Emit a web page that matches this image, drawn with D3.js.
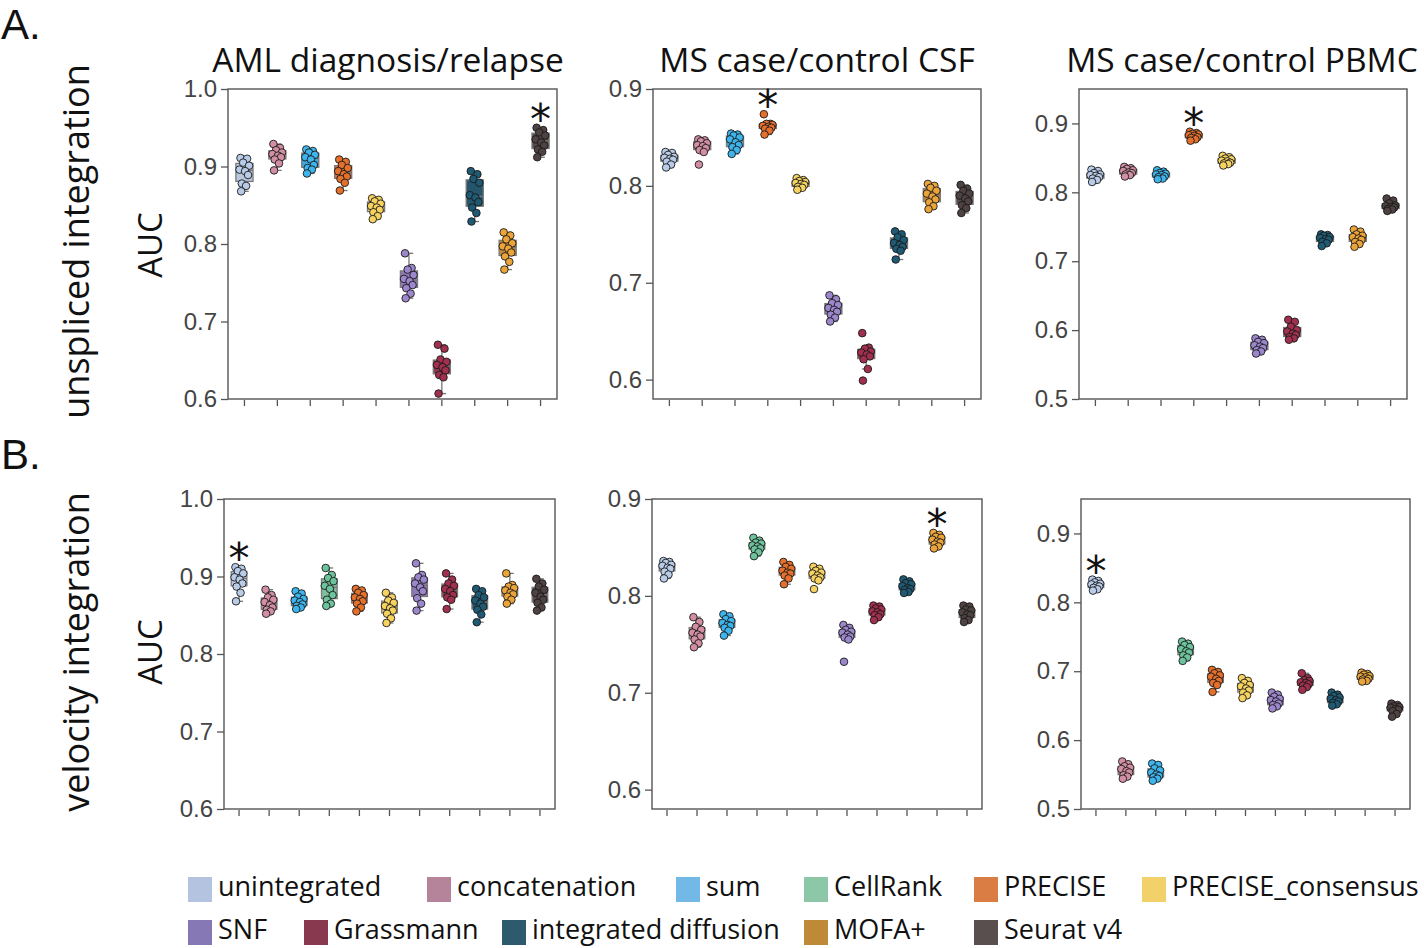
<!DOCTYPE html>
<html><head><meta charset="utf-8">
<script src="https://cdn.jsdelivr.net/npm/d3@7"></script>
<style>body{margin:0;background:#fff} svg{display:block}</style>
</head><body>
<svg id="chart" width="1424" height="948"></svg>
<script>
// ---------------- data ----------------
const methodsTop = ["unintegrated","concatenation","sum","PRECISE","PRECISE_consensus","SNF","Grassmann","integrated diffusion","MOFA+","Seurat v4"];
const methodsBottom = ["unintegrated","concatenation","sum","CellRank","PRECISE","PRECISE_consensus","SNF","Grassmann","integrated diffusion","MOFA+","Seurat v4"];
const datasetTitles = ["AML diagnosis/relapse","MS case/control CSF","MS case/control PBMC"];
const rowLabels = ["unspliced integration","velocity integration"];
const panelLetters = ["A.","B."];
const yLabel = "AUC";
const yDomainAML = [0.6, 1.0];
const yDomainCSF = [0.58, 0.9];
const yDomainPBMC = [0.5, 0.95];
const yTicksAML = [0.6, 0.7, 0.8, 0.9, 1.0];
const yTicksCSF = [0.6, 0.7, 0.8, 0.9];
const yTicksPBMC = [0.5, 0.6, 0.7, 0.8, 0.9];
const legendRow1 = ["unintegrated","concatenation","sum","CellRank","PRECISE","PRECISE_consensus"];
const legendRow2 = ["SNF","Grassmann","integrated diffusion","MOFA+","Seurat v4"];
const bestTop = ["Seurat v4","PRECISE","PRECISE"];
const bestBottom = ["unintegrated","MOFA+","unintegrated"];

const unsplicedAML = [
 [0.911,0.910,0.905,0.901,0.896,0.894,0.889,0.878,0.875,0.868],
 [0.929,0.924,0.921,0.918,0.916,0.914,0.912,0.909,0.904,0.895],
 [0.922,0.920,0.918,0.915,0.912,0.909,0.902,0.898,0.896,0.891],
 [0.909,0.906,0.902,0.898,0.894,0.890,0.887,0.884,0.879,0.869],
 [0.859,0.857,0.855,0.852,0.849,0.847,0.844,0.841,0.836,0.832],
 [0.788,0.769,0.767,0.760,0.755,0.752,0.747,0.743,0.736,0.730],
 [0.670,0.665,0.651,0.648,0.644,0.641,0.637,0.631,0.628,0.607],
 [0.894,0.890,0.884,0.879,0.863,0.860,0.854,0.847,0.840,0.829],
 [0.815,0.811,0.806,0.801,0.797,0.794,0.789,0.784,0.777,0.767],
 [0.950,0.947,0.944,0.940,0.935,0.931,0.927,0.922,0.919,0.912]
];
const unsplicedCSF = [
 [0.835,0.834,0.832,0.830,0.829,0.828,0.827,0.825,0.822,0.819],
 [0.848,0.847,0.846,0.844,0.842,0.841,0.839,0.837,0.835,0.822],
 [0.854,0.853,0.852,0.850,0.848,0.845,0.842,0.840,0.837,0.833],
 [0.874,0.864,0.864,0.863,0.862,0.861,0.860,0.859,0.857,0.853],
 [0.808,0.806,0.805,0.804,0.803,0.802,0.801,0.799,0.798,0.796],
 [0.687,0.683,0.679,0.677,0.674,0.672,0.670,0.667,0.664,0.660],
 [0.648,0.633,0.632,0.629,0.628,0.626,0.624,0.621,0.611,0.599],
 [0.753,0.750,0.747,0.744,0.741,0.739,0.737,0.735,0.733,0.724],
 [0.802,0.800,0.798,0.795,0.792,0.789,0.786,0.783,0.779,0.776],
 [0.801,0.797,0.795,0.792,0.790,0.787,0.784,0.780,0.777,0.772]
];
const unsplicedPBMC = [
 [0.833,0.831,0.828,0.826,0.825,0.824,0.822,0.820,0.818,0.815],
 [0.837,0.835,0.834,0.832,0.831,0.829,0.828,0.826,0.825,0.823],
 [0.832,0.830,0.828,0.827,0.826,0.825,0.823,0.822,0.820,0.819],
 [0.888,0.886,0.885,0.884,0.883,0.882,0.880,0.879,0.877,0.875],
 [0.853,0.851,0.849,0.848,0.846,0.845,0.843,0.842,0.841,0.839],
 [0.588,0.586,0.583,0.581,0.578,0.576,0.574,0.571,0.569,0.566],
 [0.615,0.612,0.605,0.600,0.598,0.595,0.593,0.590,0.588,0.586],
 [0.739,0.738,0.737,0.735,0.734,0.732,0.731,0.728,0.726,0.722],
 [0.746,0.743,0.739,0.737,0.735,0.733,0.731,0.728,0.725,0.721],
 [0.791,0.788,0.784,0.781,0.780,0.779,0.778,0.776,0.775,0.773]
];
const velocityAML = [
 [0.912,0.910,0.907,0.904,0.899,0.896,0.891,0.887,0.879,0.868],
 [0.883,0.876,0.873,0.870,0.867,0.863,0.860,0.857,0.855,0.852],
 [0.881,0.878,0.874,0.871,0.869,0.867,0.864,0.862,0.860,0.858],
 [0.911,0.902,0.898,0.894,0.888,0.884,0.876,0.870,0.865,0.862],
 [0.884,0.882,0.879,0.876,0.873,0.871,0.868,0.865,0.860,0.855],
 [0.879,0.873,0.869,0.866,0.862,0.859,0.856,0.852,0.846,0.840],
 [0.917,0.902,0.899,0.896,0.891,0.886,0.881,0.872,0.865,0.856],
 [0.904,0.896,0.891,0.888,0.884,0.881,0.876,0.873,0.870,0.858],
 [0.884,0.881,0.876,0.873,0.869,0.865,0.861,0.857,0.851,0.841],
 [0.904,0.889,0.887,0.885,0.882,0.879,0.877,0.874,0.870,0.865],
 [0.897,0.891,0.887,0.883,0.879,0.874,0.870,0.866,0.860,0.856]
];
const velocityCSF = [
 [0.836,0.835,0.834,0.832,0.831,0.829,0.828,0.825,0.822,0.818],
 [0.778,0.773,0.768,0.765,0.762,0.760,0.758,0.755,0.751,0.747],
 [0.781,0.779,0.776,0.774,0.772,0.770,0.769,0.767,0.764,0.759],
 [0.860,0.857,0.855,0.854,0.852,0.851,0.849,0.848,0.845,0.841],
 [0.835,0.832,0.830,0.828,0.826,0.824,0.823,0.821,0.818,0.812],
 [0.830,0.828,0.826,0.824,0.823,0.821,0.819,0.818,0.816,0.807],
 [0.770,0.767,0.765,0.763,0.762,0.760,0.758,0.757,0.755,0.732],
 [0.790,0.789,0.787,0.786,0.784,0.783,0.781,0.780,0.778,0.775],
 [0.817,0.815,0.813,0.812,0.810,0.808,0.807,0.806,0.804,0.803],
 [0.865,0.863,0.861,0.860,0.858,0.856,0.855,0.853,0.851,0.849],
 [0.790,0.789,0.786,0.785,0.783,0.781,0.780,0.777,0.775,0.773]
];
const velocityPBMC = [
 [0.833,0.831,0.829,0.827,0.826,0.824,0.823,0.821,0.819,0.817],
 [0.569,0.565,0.562,0.560,0.558,0.555,0.553,0.549,0.547,0.544],
 [0.566,0.564,0.559,0.556,0.553,0.550,0.548,0.546,0.544,0.541],
 [0.743,0.740,0.738,0.735,0.732,0.729,0.727,0.723,0.720,0.715],
 [0.702,0.699,0.697,0.694,0.692,0.689,0.686,0.683,0.680,0.670],
 [0.690,0.686,0.683,0.680,0.678,0.675,0.672,0.669,0.665,0.661],
 [0.669,0.666,0.663,0.660,0.658,0.656,0.653,0.651,0.649,0.646],
 [0.697,0.690,0.687,0.686,0.684,0.683,0.681,0.679,0.677,0.673],
 [0.669,0.666,0.664,0.662,0.660,0.658,0.656,0.654,0.652,0.650],
 [0.698,0.696,0.695,0.693,0.692,0.691,0.689,0.688,0.686,0.685],
 [0.653,0.651,0.649,0.648,0.647,0.645,0.644,0.642,0.638,0.634]
];

// ---------------- styles ----------------
const legendColor = {
 "unintegrated":"#b4c4e0","concatenation":"#b5849a","sum":"#72b9e7","CellRank":"#8cc7a8",
 "PRECISE":"#d97d45","PRECISE_consensus":"#f2d06a","SNF":"#8677b5","Grassmann":"#88394f",
 "integrated diffusion":"#2e5a6e","MOFA+":"#bf8a38","Seurat v4":"#5a4f4f"};
const boxColor = {
 "unintegrated":"#b9c8de","concatenation":"#b98b9f","sum":"#3ca8dc","CellRank":"#7fbf9e",
 "PRECISE":"#d06d36","PRECISE_consensus":"#efcf76","SNF":"#8e79b8","Grassmann":"#8c3a52",
 "integrated diffusion":"#25566b","MOFA+":"#c28c3c","Seurat v4":"#564a4a"};
const pointColor = {
 "unintegrated":"#b8cce8","concatenation":"#d28fa3","sum":"#3db4ec","CellRank":"#6dc39b",
 "PRECISE":"#e4702c","PRECISE_consensus":"#f6d360","SNF":"#9c87cc","Grassmann":"#a1304e",
 "integrated diffusion":"#1f5a74","MOFA+":"#eba43a","Seurat v4":"#4f4242"};
const jitter = [-0.12,0.08,-0.04,0.14,-0.15,0.02,0.11,-0.08,0.05,-0.10];

const svg = d3.select("#chart");
const tickFont = "'Liberation Sans', Arial, sans-serif";
const textFont = "'Open Sans', 'Noto Sans', sans-serif";

const panels = [
 {cats:methodsTop, data:unsplicedAML, dom:yDomainAML, ticks:yTicksAML, x0:228, x1:557, y0:89, y1:399, best:bestTop[0]},
 {cats:methodsTop, data:unsplicedCSF, dom:yDomainCSF, ticks:yTicksCSF, x0:653, x1:981, y0:89, y1:399, best:bestTop[1]},
 {cats:methodsTop, data:unsplicedPBMC, dom:yDomainPBMC, ticks:yTicksPBMC, x0:1079, x1:1407, y0:89, y1:399, best:bestTop[2]},
 {cats:methodsBottom, data:velocityAML, dom:yDomainAML, ticks:yTicksAML, x0:224, x1:555, y0:499, y1:809, best:bestBottom[0]},
 {cats:methodsBottom, data:velocityCSF, dom:yDomainCSF, ticks:yTicksCSF, x0:652, x1:982, y0:499, y1:809, best:bestBottom[1]},
 {cats:methodsBottom, data:velocityPBMC, dom:yDomainPBMC, ticks:yTicksPBMC, x0:1081, x1:1410, y0:499, y1:809, best:bestBottom[2]}
];

panels.forEach(p => {
  const g = svg.append("g");
  const x = d3.scaleBand().domain(p.cats).range([p.x0, p.x1]);
  const y = d3.scaleLinear().domain(p.dom).range([p.y1, p.y0]);
  const bw = x.bandwidth();
  const boxW = bw * 0.52;

  // y axis
  const ya = g.append("g").attr("transform", `translate(${p.x0},0)`)
    .call(d3.axisLeft(y).tickValues(p.ticks).tickFormat(d3.format(".1f")).tickSize(7).tickPadding(4));
  ya.select(".domain").remove();
  ya.selectAll("line").attr("stroke", "#555").attr("stroke-width", 1.3);
  ya.selectAll("text").attr("font-family", tickFont).attr("font-size", 24).attr("fill", "#444");
  // x axis ticks
  const xa = g.append("g").attr("transform", `translate(0,${p.y1 + 1})`)
    .call(d3.axisBottom(x).tickSize(6).tickFormat(""));
  xa.select(".domain").remove();
  xa.selectAll("line").attr("stroke", "#555").attr("stroke-width", 1.3);

  // frame
  g.append("rect").attr("x", p.x0).attr("y", p.y0).attr("width", p.x1 - p.x0).attr("height", p.y1 - p.y0)
    .attr("fill", "none").attr("stroke", "#555").attr("stroke-width", 1.4);

  p.cats.forEach((c, i) => {
    const vals = p.data[i].slice().sort(d3.ascending);
    const q1 = d3.quantile(vals, 0.25), med = d3.quantile(vals, 0.5), q3 = d3.quantile(vals, 0.75);
    const iqr = q3 - q1;
    const lo = d3.min(vals.filter(v => v >= q1 - 1.5 * iqr));
    const hi = d3.max(vals.filter(v => v <= q3 + 1.5 * iqr));
    const cx = x(c) + bw / 2;
    const bg = g.append("g");
    bg.append("line").attr("x1", cx).attr("x2", cx).attr("y1", y(hi)).attr("y2", y(q3)).attr("stroke", "#777").attr("stroke-width", 1.3);
    bg.append("line").attr("x1", cx).attr("x2", cx).attr("y1", y(q1)).attr("y2", y(lo)).attr("stroke", "#777").attr("stroke-width", 1.3);
    [hi, lo].forEach(v => bg.append("line").attr("x1", cx - boxW * 0.25).attr("x2", cx + boxW * 0.25)
      .attr("y1", y(v)).attr("y2", y(v)).attr("stroke", "#777").attr("stroke-width", 1.3));
    bg.append("rect").attr("x", cx - boxW / 2).attr("width", boxW)
      .attr("y", y(q3)).attr("height", Math.max(1.5, y(q1) - y(q3)))
      .attr("fill", boxColor[c]).attr("stroke", "#7a7a7a").attr("stroke-width", 1.3);
    bg.append("line").attr("x1", cx - boxW / 2).attr("x2", cx + boxW / 2).attr("y1", y(med)).attr("y2", y(med))
      .attr("stroke", "#777").attr("stroke-width", 1.3);

    g.append("g").selectAll("circle").data(p.data[i]).join("circle")
      .attr("cx", (d, k) => cx + jitter[k % jitter.length] * bw)
      .attr("cy", d => y(d))
      .attr("r", 3.8)
      .attr("fill", pointColor[c]).attr("stroke", "#1a1a1a").attr("stroke-width", 0.9);

    if (c === p.best) {
      g.append("text").attr("x", cx).attr("y", y(d3.max(vals)) - 15 + 21)
        .attr("text-anchor", "middle").attr("font-family", "'DejaVu Sans', sans-serif")
        .attr("font-size", 42).attr("fill", "#111").text("*");
    }
  });
});

// titles
const titleCenters = [388, 817, 1242];
datasetTitles.forEach((t, i) => {
  svg.append("text").attr("x", titleCenters[i]).attr("y", 72).attr("text-anchor", "middle")
    .attr("font-family", textFont).attr("font-size", 33.5).attr("fill", "#111").text(t);
});

// panel letters
const letterFont = "'Liberation Sans', Arial, sans-serif";
svg.append("text").attr("x", 1).attr("y", 39).attr("font-family", letterFont).attr("font-size", 42).attr("fill", "#111").text(panelLetters[0]);
svg.append("text").attr("x", 1).attr("y", 469).attr("font-family", letterFont).attr("font-size", 42).attr("fill", "#111").text(panelLetters[1]);

// row labels & AUC
const rowCenters = [241.5, 652];
rowLabels.forEach((t, i) => {
  svg.append("text").attr("transform", `translate(89,${rowCenters[i]}) rotate(-90)`).attr("text-anchor", "middle")
    .attr("font-family", textFont).attr("font-size", 36).attr("fill", "#111").text(t);
  svg.append("text").attr("transform", `translate(162,${[245, 652][i]}) rotate(-90)`).attr("text-anchor", "middle")
    .attr("font-family", textFont).attr("font-size", 33).attr("fill", "#111").text(yLabel);
});

// legend
const legendX1 = [188, 427, 676, 804, 974, 1142];
const legendX2 = [188, 304, 502, 804, 974];
[[legendRow1, legendX1, 877, 896], [legendRow2, legendX2, 920, 939]].forEach(([items, xs, yy, base]) => {
  items.forEach((m, i) => {
    svg.append("rect").attr("x", xs[i]).attr("y", yy).attr("width", 24).attr("height", 25).attr("fill", legendColor[m]);
    svg.append("text").attr("x", xs[i] + 30).attr("y", base).attr("font-family", textFont)
      .attr("font-size", 27).attr("fill", "#111").text(m);
  });
});
</script>
</body></html>
